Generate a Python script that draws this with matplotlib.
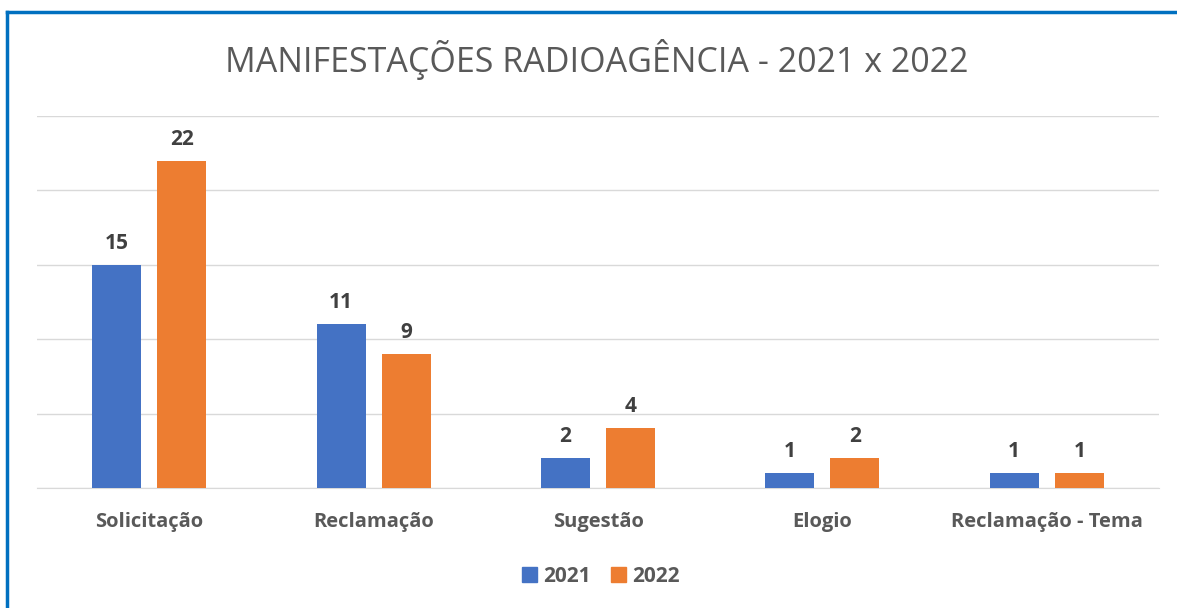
import numpy as np
import matplotlib.pyplot as plt
from matplotlib.lines import Line2D
from matplotlib.patches import Patch

plt.rcParams['font.family'] = ['Open Sans', 'DejaVu Sans']

categories = ['Solicitação', 'Reclamação', 'Sugestão', 'Elogio', 'Reclamação - Tema']
values_2021 = [15, 11, 2, 1, 1]
values_2022 = [22, 9, 4, 2, 1]
series_names = ['2021', '2022']

BLUE = '#4472C4'
ORANGE = '#ED7D31'
GRAY = '#595959'


def main():
    fig = plt.figure(figsize=(11.77, 6.08), dpi=100)
    W, H = 1177, 608
    ax = fig.add_axes([37 / W, (H - 488) / H, (1159 - 37) / W, (488 - 116) / H])

    x = np.arange(len(categories))
    width = 0.218
    offset = 0.145
    b1 = ax.bar(x - offset, values_2021, width, color=BLUE, zorder=3)
    b2 = ax.bar(x + offset, values_2022, width, color=ORANGE, zorder=3)

    for bars in (b1, b2):
        ax.bar_label(bars, padding=8, fontsize=15, fontweight='bold', color='#404040')

    ax.set_xlim(-0.5, len(categories) - 0.5)
    ax.set_ylim(0, 25)
    ax.set_yticks(np.arange(0, 26, 5))
    ax.yaxis.grid(True, color='#D9D9D9', linewidth=1)
    ax.set_axisbelow(True)
    ax.tick_params(axis='y', left=False, labelleft=False)
    ax.tick_params(axis='x', bottom=False, pad=14)
    ax.set_xticks(x)
    ax.set_xticklabels(categories, fontsize=14.5, fontweight='bold', color=GRAY)
    for s in ['top', 'right', 'left']:
        ax.spines[s].set_visible(False)
    ax.spines['bottom'].set_color('#D9D9D9')

    fig.text(597 / W, 1 - 60 / H, 'MANIFESTAÇÕES RADIOAGÊNCIA - 2021 x 2022',
             ha='center', va='center', fontsize=24.5, color=GRAY)

    handles = [Patch(color=BLUE), Patch(color=ORANGE)]
    fig.legend(handles, series_names, loc='center', bbox_to_anchor=(601 / W, 1 - 576 / H),
               ncol=2, frameon=False, handlelength=0.7, handleheight=0.7,
               handletextpad=0.3, columnspacing=1.0,
               prop={'weight': 'bold', 'size': 15})
    for t in fig.legends[0].get_texts():
        t.set_color(GRAY)

    # blue frame
    fig.add_artist(Line2D([7 / W, 1], [1 - 12 / H, 1 - 12 / H], color='#0070C0', linewidth=2.5))
    fig.add_artist(Line2D([7 / W, 7 / W], [0, 1 - 12 / H], color='#0070C0', linewidth=2.5))

    fig.savefig('out.png', dpi=100)
    plt.close()


if __name__ == '__main__':
    main()
